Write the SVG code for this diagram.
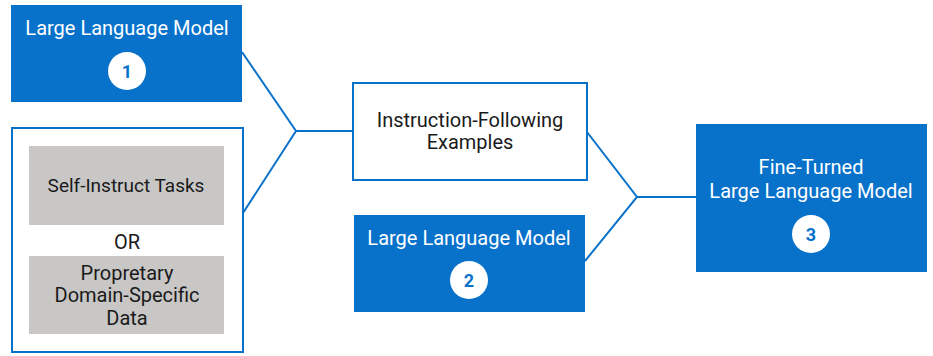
<svg xmlns="http://www.w3.org/2000/svg" width="933" height="356" viewBox="0 0 933 356">
<style>
.blue{fill:#0872CB}
.outline{fill:#fff;stroke:#0872CB;stroke-width:2}
.gray{fill:#C8C7C6}
.wt{font-family:Roboto,"Liberation Sans",sans-serif;font-size:20px;fill:#fff;text-anchor:middle}
.bt{font-family:Roboto,"Liberation Sans",sans-serif;font-size:20px;fill:#1a1a1a;text-anchor:middle}
.badge{fill:#fff}
.num{font-family:Roboto,"Liberation Sans",sans-serif;font-size:18px;font-weight:bold;fill:#0872CB;text-anchor:middle}
.conn{fill:none;stroke:#0872CB;stroke-width:2}
</style>
<g id="connectors">
<polyline class="conn" points="242,52 296,131 243,213"/>
<line class="conn" x1="296" y1="131" x2="354" y2="131"/>
<polyline class="conn" points="587,132 637,197 585,261"/>
<line class="conn" x1="637" y1="197" x2="696" y2="197"/>
</g>
<g id="llm1">
<rect class="blue" x="11" y="5" width="231" height="97"/>
<text class="wt" x="127" y="35">Large Language Model</text>
<circle class="badge" cx="127" cy="71" r="19"/>
<text class="num" x="127" y="77.5">1</text>
</g>
<g id="data-source">
<rect class="outline" x="12" y="128" width="231" height="224"/>
<rect class="gray" x="29" y="146" width="195" height="79"/>
<text class="bt" x="126" y="192" style="font-size:19px">Self-Instruct Tasks</text>
<text class="bt" x="127" y="249">OR</text>
<rect class="gray" x="29" y="256" width="195" height="78"/>
<text class="bt" x="127" y="280">Propretary</text>
<text class="bt" x="127" y="302">Domain-Specific</text>
<text class="bt" x="127" y="325">Data</text>
</g>
<g id="instruction">
<rect class="outline" x="353" y="83" width="234" height="97"/>
<text class="bt" x="470" y="127">Instruction-Following</text>
<text class="bt" x="470" y="149">Examples</text>
</g>
<g id="llm2">
<rect class="blue" x="354" y="215" width="231" height="97"/>
<text class="wt" x="469" y="245">Large Language Model</text>
<circle class="badge" cx="469" cy="280" r="19"/>
<text class="num" x="469" y="286.5">2</text>
</g>
<g id="finetuned">
<rect class="blue" x="696" y="124" width="231" height="148"/>
<text class="wt" x="811" y="174">Fine-Turned</text>
<text class="wt" x="811" y="198">Large Language Model</text>
<circle class="badge" cx="811" cy="234" r="19"/>
<text class="num" x="811" y="240.5">3</text>
</g>
</svg>
